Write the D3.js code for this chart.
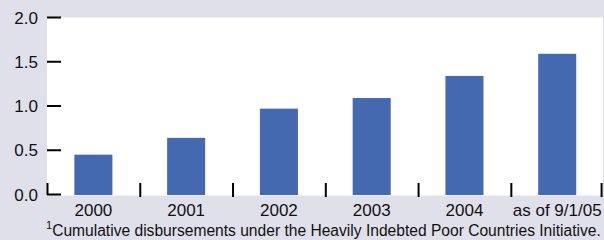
<!DOCTYPE html>
<html><head><meta charset="utf-8">
<script src="https://cdn.jsdelivr.net/npm/d3@7"></script>
<style>
html,body{margin:0;padding:0;background:#e0e0ea;}
svg{display:block;font-family:"Liberation Sans",Arial,sans-serif;}
</style></head>
<body>
<svg id="c" width="604" height="240"></svg>
<script>
const categories = ["2000","2001","2002","2003","2004","as of 9/1/05"];
const values = [0.45, 0.64, 0.97, 1.09, 1.34, 1.59];
const yTicks = [0, 0.5, 1.0, 1.5, 2.0];
const footnote = "Cumulative disbursements under the Heavily Indebted Poor Countries Initiative.";

const svg = d3.select("#c");
const L = 47, R = 603, T = 17.5, B = 194.5;
svg.append("rect").attr("width",604).attr("height",240).attr("fill","#e0e0ea");
svg.append("rect").attr("x",L).attr("y",T).attr("width",R-L).attr("height",B-T+1).attr("fill","#ffffff");

const x = d3.scaleBand().domain(categories).range([L, R+0.6]).padding(0);
const y = d3.scaleLinear().domain([0,2]).range([B, T]);
const bw = x.bandwidth()*0.41;

svg.append("g").selectAll("rect").data(values).join("rect")
  .attr("x",(d,i)=>x(categories[i])+x.bandwidth()/2-bw/2)
  .attr("width",bw)
  .attr("y",d=>y(d))
  .attr("height",d=>y(0)-y(d)+0.5)
  .attr("fill","#4469b0");

const yg = svg.append("g");
yg.selectAll("line").data(yTicks).join("line")
  .attr("x1",L).attr("x2",L+14).attr("y1",d=>y(d)).attr("y2",d=>y(d))
  .attr("stroke","#000").attr("stroke-width",2);
yg.selectAll("text").data(yTicks).join("text")
  .attr("x",38).attr("y",d=>y(d)).attr("dy","0.36em")
  .attr("text-anchor","end").attr("font-size",17).attr("fill","#111")
  .text(d=>d.toFixed(1));

const bounds = categories.map(c=>x(c)).concat([x(categories[categories.length-1])+x.bandwidth()]);
svg.append("g").selectAll("line").data(bounds).join("line")
  .attr("x1",(d,i)=>i===bounds.length-1? d-2 : d+0.5).attr("x2",(d,i)=>i===bounds.length-1? d-2 : d+0.5)
  .attr("y1",183).attr("y2",(d,i)=>i===0?195:197)
  .attr("stroke","#000").attr("stroke-width",2);

svg.append("g").selectAll("text").data(categories).join("text")
  .attr("x",d=>x(d)+x.bandwidth()/2).attr("y",216)
  .attr("text-anchor","middle").attr("font-size",17).attr("fill","#111")
  .text(d=>d);

const fn = svg.append("text").attr("x",46).attr("y",236).attr("font-size",15.6).attr("fill","#111");
fn.append("tspan").attr("font-size",11).attr("dy",-7).text("1");
fn.append("tspan").attr("dy",7).text(footnote);
</script>
</body></html>
